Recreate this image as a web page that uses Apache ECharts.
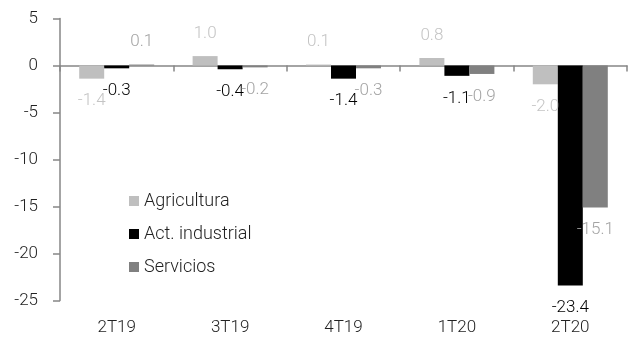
<!DOCTYPE html>
<html>
<head>
<meta charset="utf-8">
<script src="https://cdn.jsdelivr.net/npm/echarts@6/dist/echarts.min.js"></script>
<style>
  html, body { margin: 0; padding: 0; background: #fff; }
  #chart { width: 642px; height: 339px; }
</style>
</head>
<body>
<div id="chart"></div>
<script>
var categories = ["2T19", "3T19", "4T19", "1T20", "2T20"];
var agricultura = [-1.4, 1.0, 0.1, 0.8, -2.0];
var industrial = [-0.3, -0.4, -1.4, -1.1, -23.4];
var servicios = [0.1, -0.2, -0.3, -0.9, -15.1];

var font = "Roboto, 'Liberation Sans', sans-serif";

// etiquetas arriba si es positivo, abajo si es negativo
function withLabels(values) {
  return values.map(function (v) {
    return {
      value: v,
      label: { position: v >= 0 ? "top" : "bottom" }
    };
  });
}

function barSeries(name, values, color, labelColor) {
  return {
    name: name,
    type: "bar",
    barWidth: 25,
    barGap: "0%",
    animation: false,
    itemStyle: { color: color },
    label: {
      show: true,
      distance: 14,
      color: labelColor,
      fontFamily: font,
      fontWeight: 300,
      fontSize: 17,
      formatter: function (p) {
        return p.value.toFixed(1);
      }
    },
    data: withLabels(values)
  };
}

var myChart = echarts.init(document.getElementById("chart"));
myChart.setOption({
  grid: { left: 60, right: 15, top: 18.5, bottom: 38.5 },
  legend: {
    orient: "vertical",
    left: 124,
    top: 187,
    itemWidth: 10,
    itemHeight: 10,
    itemGap: 15,
    itemStyle: { borderWidth: 0 },
    icon: "rect",
    textStyle: { fontFamily: font, fontWeight: 300, fontSize: 18, color: "#222" },
    data: ["Agricultura", "Act. industrial", "Servicios"]
  },
  xAxis: [
    {
      type: "category",
      data: categories,
      axisLine: { onZero: true, lineStyle: { color: "#868686", width: 1.5 } },
      axisTick: { show: true, length: 6, lineStyle: { color: "#868686", width: 1.5 } },
      axisLabel: { show: false }
    },
    {
      type: "category",
      data: categories,
      position: "bottom",
      axisLine: { show: false, onZero: false },
      axisTick: { show: false },
      axisLabel: { margin: 19, color: "#222", fontFamily: font, fontWeight: 300, fontSize: 17 }
    }
  ],
  yAxis: {
    type: "value",
    min: -25,
    max: 5,
    interval: 5,
    splitLine: { show: false },
    axisLine: { show: true, lineStyle: { color: "#868686", width: 1.5 } },
    axisTick: { show: true, length: 7, lineStyle: { color: "#868686", width: 1.5 } },
    axisLabel: { margin: 22, color: "#222", fontFamily: font, fontWeight: 300, fontSize: 17 }
  },
  series: [
    barSeries("Agricultura", agricultura, "#bfbfbf", "#c4c4c4"),
    barSeries("Act. industrial", industrial, "#000000", "#000000"),
    barSeries("Servicios", servicios, "#808080", "#a3a3a3")
  ]
});
</script>
</body>
</html>
